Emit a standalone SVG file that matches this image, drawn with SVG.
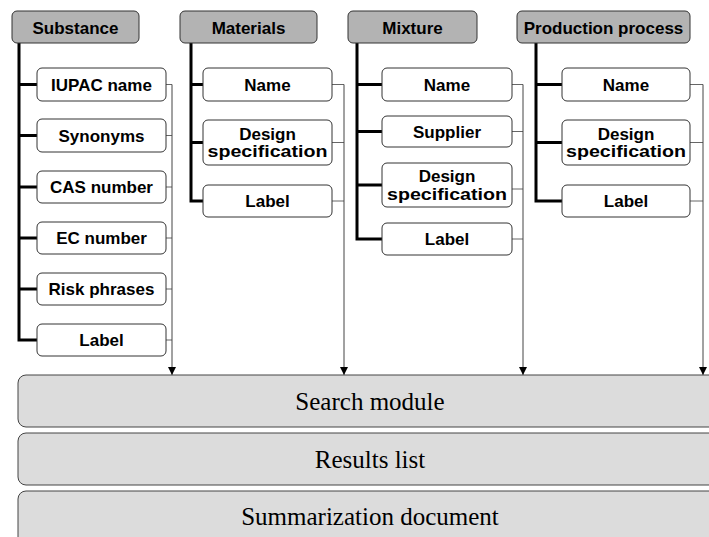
<svg xmlns="http://www.w3.org/2000/svg" width="709" height="537" viewBox="0 0 709 537">
<defs>
<marker id="arr" markerUnits="userSpaceOnUse" markerWidth="8" markerHeight="8" refX="8" refY="4" orient="auto">
<path d="M0,0 L8,4 L0,8 z" fill="#000"/>
</marker>
<style>
.hdr{fill:#b3b3b3;stroke:#333;stroke-width:1}
.item{fill:#fff;stroke:#333;stroke-width:1}
.lbl{font-family:"Liberation Sans",Arial,sans-serif;font-weight:bold;font-size:17px;fill:#000;text-anchor:middle}
.thick{fill:none;stroke:#000;stroke-width:3}
.thin{fill:none;stroke:#666;stroke-width:1}
.arrow{fill:none;stroke:#444;stroke-width:1;marker-end:url(#arr)}
.band{fill:#dcdcdc;stroke:#444;stroke-width:1}
.big{font-family:"Liberation Serif","Times New Roman",serif;font-size:25px;fill:#000;text-anchor:middle}
</style>
</defs>
<rect width="709" height="537" fill="#fff"/>

<g id="connectors">
<!-- Substance -->
<path class="thick" d="M19,43 V340 H37 M19,84.5 H37 M19,135.5 H37 M19,187 H37 M19,238 H37 M19,289 H37"/>
<path class="thin" d="M166,84.5 H172 M166,135.5 H172 M166,187 H172 M166,238 H172 M166,289 H172 M166,340 H172"/>
<path class="arrow" d="M172,84.5 V375"/>
<!-- Materials -->
<path class="thick" d="M191,43 V201 H203 M191,84.5 H203 M191,142.5 H203"/>
<path class="thin" d="M332,84.5 H344 M332,142.5 H344 M332,201 H344"/>
<path class="arrow" d="M344,84.5 V375"/>
<!-- Mixture -->
<path class="thick" d="M357,43 V239 H382 M357,84.5 H382 M357,131.5 H382 M357,185 H382"/>
<path class="thin" d="M512,84.5 H523 M512,131.5 H523 M512,189 H523 M512,239 H523"/>
<path class="arrow" d="M523,84.5 V375"/>
<!-- Production process -->
<path class="thick" d="M536,43 V201 H562 M536,84.5 H562 M536,142.5 H562"/>
<path class="thin" d="M690,84.5 H703 M690,142.5 H703 M690,201 H703"/>
<path class="arrow" d="M703,84.5 V375"/>
</g>

<g id="substance">
<rect class="hdr" x="12" y="11" width="127" height="32" rx="5"/>
<text class="lbl" x="75.5" y="33.5">Substance</text>
</g>
<g id="substance-iupac"><rect class="item" x="37" y="68" width="129" height="33" rx="5"/><text class="lbl" x="101.5" y="90.5">IUPAC name</text></g>
<g id="substance-synonyms"><rect class="item" x="37" y="119" width="129" height="33" rx="5"/><text class="lbl" x="101.5" y="141.5">Synonyms</text></g>
<g id="substance-cas"><rect class="item" x="37" y="171" width="129" height="32" rx="5"/><text class="lbl" x="101.5" y="193">CAS number</text></g>
<g id="substance-ec"><rect class="item" x="37" y="222" width="129" height="32" rx="5"/><text class="lbl" x="101.5" y="244">EC number</text></g>
<g id="substance-risk"><rect class="item" x="37" y="273" width="129" height="32" rx="5"/><text class="lbl" x="101.5" y="295">Risk phrases</text></g>
<g id="substance-label"><rect class="item" x="37" y="324" width="129" height="32" rx="5"/><text class="lbl" x="101.5" y="346">Label</text></g>

<g id="materials">
<rect class="hdr" x="180" y="11" width="137" height="32" rx="5"/>
<text class="lbl" x="248.5" y="33.5">Materials</text>
</g>
<g id="materials-name"><rect class="item" x="203" y="68" width="129" height="33" rx="5"/><text class="lbl" x="267.5" y="90.5">Name</text></g>
<g id="materials-design"><rect class="item" x="203" y="120" width="129" height="45" rx="5"/><text class="lbl" x="267.5" y="139.5">Design</text><text class="lbl" x="267.5" y="157" textLength="120" lengthAdjust="spacingAndGlyphs">specification</text></g>
<g id="materials-label"><rect class="item" x="203" y="185" width="129" height="32" rx="5"/><text class="lbl" x="267.5" y="207">Label</text></g>

<g id="mixture">
<rect class="hdr" x="348" y="11" width="129" height="32" rx="5"/>
<text class="lbl" x="412.5" y="33.5">Mixture</text>
</g>
<g id="mixture-name"><rect class="item" x="382" y="68" width="130" height="33" rx="5"/><text class="lbl" x="447" y="90.5">Name</text></g>
<g id="mixture-supplier"><rect class="item" x="382" y="116" width="130" height="31" rx="5"/><text class="lbl" x="447" y="137.5">Supplier</text></g>
<g id="mixture-design"><rect class="item" x="382" y="163" width="130" height="44" rx="5"/><text class="lbl" x="447" y="182">Design</text><text class="lbl" x="447" y="199.5" textLength="120" lengthAdjust="spacingAndGlyphs">specification</text></g>
<g id="mixture-label"><rect class="item" x="382" y="223" width="130" height="32" rx="5"/><text class="lbl" x="447" y="245">Label</text></g>

<g id="production">
<rect class="hdr" x="517" y="11" width="173" height="32" rx="5"/>
<text class="lbl" x="603.5" y="33.5">Production process</text>
</g>
<g id="production-name"><rect class="item" x="562" y="68" width="128" height="33" rx="5"/><text class="lbl" x="626" y="90.5">Name</text></g>
<g id="production-design"><rect class="item" x="562" y="120" width="128" height="45" rx="5"/><text class="lbl" x="626" y="139.5">Design</text><text class="lbl" x="626" y="157" textLength="120" lengthAdjust="spacingAndGlyphs">specification</text></g>
<g id="production-label"><rect class="item" x="562" y="185" width="128" height="32" rx="5"/><text class="lbl" x="626" y="207">Label</text></g>

<g id="search-module">
<rect class="band" x="18" y="375" width="704" height="52" rx="8"/>
<text class="big" x="370" y="410">Search module</text>
</g>
<g id="results-list">
<rect class="band" x="18" y="433" width="704" height="52" rx="8"/>
<text class="big" x="370" y="468">Results list</text>
</g>
<g id="summarization-document">
<rect class="band" x="18" y="491" width="704" height="60" rx="8"/>
<text class="big" x="370" y="525">Summarization document</text>
</g>
</svg>
